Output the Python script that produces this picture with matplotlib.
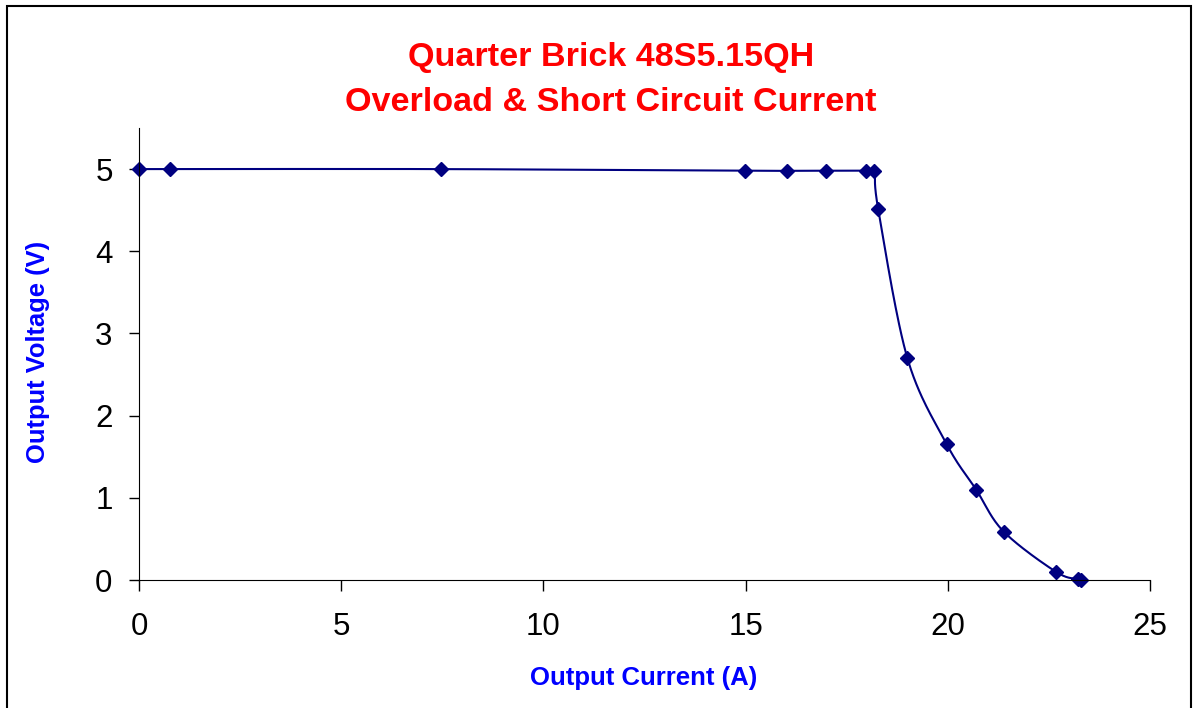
import numpy as np
import matplotlib.pyplot as plt
from matplotlib.patches import Rectangle

plt.rcParams['font.family'] = ['Liberation Sans', 'DejaVu Sans']

# output current (A) and output voltage (V)
current = [0.0, 0.77, 7.47, 14.98, 16.02, 16.99, 17.98, 18.18, 18.28,
           19.0, 19.97, 20.70, 21.38, 22.68, 23.23, 23.29]
voltage = [5.0, 5.0, 5.0, 4.98, 4.98, 4.98, 4.98, 4.98, 4.51,
           2.70, 1.655, 1.10, 0.59, 0.098, 0.01, 0.0]

title1 = 'Quarter Brick 48S5.15QH'
title2 = 'Overload & Short Circuit Current'
xlabel = 'Output Current (A)'
ylabel = 'Output Voltage (V)'
xticks = [0, 5, 10, 15, 20, 25]
yticks = [0, 1, 2, 3, 4, 5]


def smooth(x, y, n=30):
    # excel style smoothed line: bezier through the points
    x = np.asarray(x, float)
    y = np.asarray(y, float)
    px = np.concatenate([[x[0]], x, [x[-1]]])
    py = np.concatenate([[y[0]], y, [y[-1]]])
    sx, sy = [], []
    t = np.linspace(0, 1, n)
    for i in range(1, len(px) - 2):
        p0 = np.array([px[i], py[i]])
        p3 = np.array([px[i + 1], py[i + 1]])
        p1 = p0 + (np.array([px[i + 1], py[i + 1]]) - np.array([px[i - 1], py[i - 1]])) / 6
        p2 = p3 - (np.array([px[i + 2], py[i + 2]]) - np.array([px[i], py[i]])) / 6
        b = ((1 - t) ** 3)[:, None] * p0 + (3 * (1 - t) ** 2 * t)[:, None] * p1 \
            + (3 * (1 - t) * t ** 2)[:, None] * p2 + (t ** 3)[:, None] * p3
        sx.extend(b[:, 0])
        sy.extend(b[:, 1])
    return sx, sy


fig = plt.figure(figsize=(11.93, 7.08), dpi=100)
ax = fig.add_axes([139 / 1193, 1 - 580 / 708, (1150 - 139) / 1193, (580 - 128) / 708])

sx, sy = smooth(current, voltage)
ax.plot(sx, sy, color='#000080', lw=1.5, clip_on=False)
ax.plot(current, voltage, ls='none', marker='D', ms=7.5, color='#000080', clip_on=False)

ax.set_xlim(0, 25)
ax.set_ylim(0, 5.5)
ax.set_xticks(xticks)
ax.set_yticks(yticks)
ax.spines['top'].set_visible(False)
ax.spines['right'].set_visible(False)
ax.tick_params(axis='x', direction='out', length=8, width=1, labelsize=22.5, pad=15)
ax.tick_params(axis='y', direction='out', length=7, width=1, labelsize=22.5, pad=12)

fig.text(644 / 1193, 1 - 685 / 708, xlabel, color='#0000ff', fontsize=18.5,
         fontweight='bold', ha='center', va='baseline')
fig.text(38 / 1193, 1 - 352 / 708, ylabel, color='#0000ff', fontsize=18.4,
         fontweight='bold', ha='center', va='center', rotation=90)
fig.text(611 / 1193, 1 - 66 / 708, title1, color='#ff0000', fontsize=24.6,
         fontweight='bold', ha='center', va='baseline')
fig.text(611 / 1193, 1 - 111 / 708, title2, color='#ff0000', fontsize=24.6,
         fontweight='bold', ha='center', va='baseline')

# border round the chart
fig.add_artist(Rectangle((7 / 1193, -0.05), (1191 - 7) / 1193, 1.05 - 6 / 708,
                         transform=fig.transFigure, fill=False, ec='black', lw=1.5))

fig.savefig('out.png', dpi=100)
